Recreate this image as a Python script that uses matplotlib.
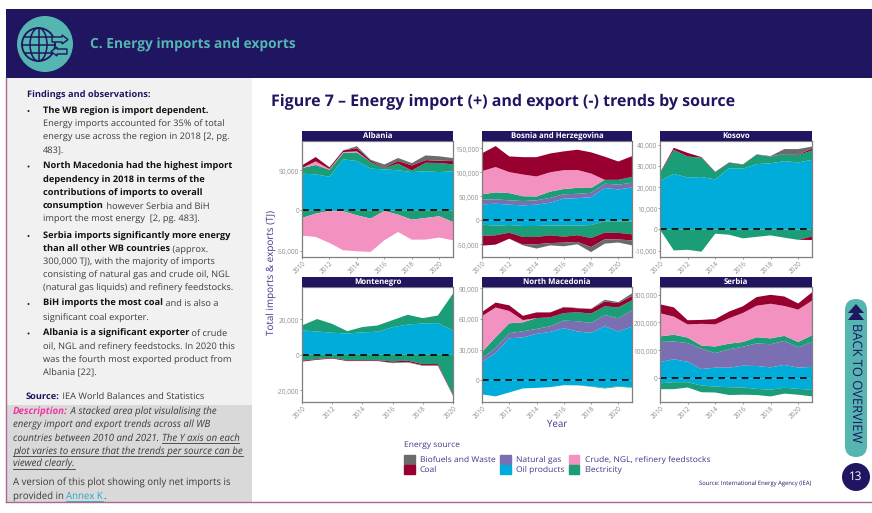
import matplotlib
matplotlib.use("Agg")
import matplotlib.pyplot as plt
from matplotlib.patches import Rectangle, Circle, Ellipse, FancyBboxPatch, Polygon, Patch
from matplotlib.ticker import FuncFormatter

plt.rcParams['font.family'] = ['Open Sans', 'DejaVu Sans']
plt.rcParams['text.hinting'] = 'no_hinting'

years = list(range(2010, 2022))
years_mne = list(range(2010, 2021))

# imports (+) and exports (-), TJ
alb_oil = [45500, 44600, 41700, 63200, 61200, 51700, 50800, 49600, 47500, 48300, 47500, 48300]
alb_elec = [7000, 11600, 8700, 7900, 10700, 8300, 1600, 8300, 2000, 10700, 11200, 8700]
alb_crude = [0, 4500, 800, 1200, 1200, 0, 0, 0, 0, 0, 0, 0]
alb_coal = [3300, 5400, 2000, 2000, 4000, 2000, 800, 3300, 6200, 3300, 2900, 4100]
alb_bio = [0, 0, 400, 0, 2500, 800, 3700, 3700, 2900, 5800, 5400, 3700]
alb_elec_x = [-9500, -4100, -800, -1200, -6200, -10300, -800, -5400, -11600, -9500, -7400, -14500]
alb_crude_x = [-21900, -28900, -39700, -48300, -44600, -41300, -36300, -21500, -24800, -26800, -26400, -22700]

bih_oil = [33000, 34500, 32500, 31000, 32500, 36600, 45000, 46000, 48000, 67000, 64000, 68000]
bih_gas = [10000, 9000, 9000, 9000, 9000, 10000, 9000, 9000, 9000, 9000, 10000, 10000]
bih_elec = [11000, 14500, 15000, 10000, 8000, 13000, 11000, 12400, 10000, 8000, 10000, 12000]
bih_crude = [48000, 52500, 43500, 45000, 41500, 40000, 39000, 37000, 30000, 0, 0, 0]
bih_coal = [37000, 43500, 32500, 36000, 40000, 39000, 39000, 42000, 44000, 48000, 38000, 43000]
bih_oil_x = [-9000, -11000, -9700, -11700, -11700, -10400, -11000, -11000, -9700, -2000, -2000, -2000]
bih_elec_x = [-23500, -20000, -16000, -22800, -22800, -20700, -22800, -20000, -27000, -23500, -24000, -27000]
bih_coal_x = [-20000, -19300, -12400, -16000, -15000, -16000, -12400, -13800, -18700, -13800, -13800, -12400]
bih_bio_x = [0, 0, 0, -1400, -9000, -4800, -7600, -4800, -10400, -9000, -6200, -10400]

kos_oil = [23000, 26200, 24500, 24700, 23600, 28900, 28600, 30800, 31200, 32200, 31600, 32800]
kos_elec = [3600, 11300, 9900, 9100, 3500, 2500, 2000, 4500, 3100, 3300, 3500, 4400]
kos_coal = [200, 1000, 1700, 300, 100, 200, 100, 100, 100, 100, 300, 900]
kos_bio = [0, 0, 0, 0, 0, 0, 0, 0, 200, 2300, 2500, 1000]
kos_elec_x = [-100, -9900, -9600, -10500, -2000, -2500, -4200, -3500, -2800, -3900, -4900, -3300]
kos_coal_x = [0, 0, 0, 0, 0, 0, 0, 0, 0, 0, 0, -1700]

mne_oil = [13700, 13100, 12400, 12000, 12600, 13000, 15500, 17000, 17600, 17800, 13700]
mne_elec = [2800, 7000, 5000, 1300, 3000, 3500, 4000, 5500, 3000, 4300, 20700]
mne_elec_x = [-3300, -2400, -1700, -3100, -3100, -3100, -3700, -3300, -5200, -5200, -22400]
mne_coal_x = [-500, -400, -400, -400, -400, -400, -700, -700, -700, -700, -500]
mne_bio_x = [0, 0, 0, 0, 0, 0, -300, -300, -300, -300, 0]

mkd_oil = [18000, 26700, 41000, 41800, 45300, 47200, 50800, 47600, 46300, 52700, 47600, 52400]
mkd_gas = [3200, 5000, 5000, 6000, 4800, 5500, 7400, 10000, 9600, 11000, 12900, 16000]
mkd_elec = [6400, 10300, 9600, 8700, 10600, 8700, 7400, 8700, 9300, 8400, 10600, 9600]
mkd_crude = [35000, 29000, 12000, 2200, 0, 0, 0, 0, 0, 0, 0, 0]
mkd_coal = [4000, 4800, 5500, 4200, 5500, 4800, 5500, 3900, 4200, 4800, 4200, 4200]
mkd_bio = [0, 0, 0, 0, 0, 0, 600, 400, 400, 1600, 1000, 2600]
mkd_oil_x = [-13800, -15700, -11900, -8000, -7400, -6700, -4800, -4800, -5800, -7400, -5800, -7000]
mkd_elec_x = [0, 0, 0, 0, 0, 0, 0, -200, -500, -600, -600, -300]

srb_oil = [58000, 68000, 59000, 33000, 38000, 38000, 45000, 44000, 39000, 48000, 38000, 41000]
srb_gas = [72000, 64000, 67000, 73000, 52000, 66000, 68000, 81000, 83000, 86000, 73000, 89000]
srb_elec = [20000, 24000, 20000, 11000, 24000, 20000, 17000, 22000, 21000, 18000, 19000, 24000]
srb_crude = [83000, 65000, 47000, 78000, 79000, 91000, 104000, 113000, 124000, 107000, 116000, 124000]
srb_coal = [32000, 33000, 15000, 14000, 19000, 24000, 24000, 31000, 32000, 34000, 22000, 30000]
srb_oil_x = [-18000, -14000, -14000, -26000, -30000, -32000, -33000, -38000, -41000, -34000, -38000, -41000]
srb_elec_x = [-21000, -25000, -19000, -24000, -21000, -28000, -26000, -22000, -24000, -21000, -21000, -24000]

NAVY = '#1f1560'
TEAL = '#55b5b0'
LABEL = '#41378a'
source_colors = {'Biofuels and Waste': '#6b6b6b', 'Coal': '#97002f', 'Natural gas': '#7a6fb3',
                 'Oil products': '#00acd9', 'Crude, NGL, refinery feedstocks': '#f391c1', 'Electricity': '#1b9e77'}
stack_order = ['Oil products', 'Natural gas', 'Electricity', 'Crude, NGL, refinery feedstocks', 'Coal', 'Biofuels and Waste']

panels = [
    ('Albania', years, {'Oil products': alb_oil, 'Electricity': alb_elec, 'Crude, NGL, refinery feedstocks': alb_crude,
                        'Coal': alb_coal, 'Biofuels and Waste': alb_bio},
     {'Electricity': alb_elec_x, 'Crude, NGL, refinery feedstocks': alb_crude_x},
     (-57900, 86000), [-50000, 0, 50000], (302, 131, 453, 257)),
    ('Bosnia and Herzegovina', years, {'Oil products': bih_oil, 'Natural gas': bih_gas, 'Electricity': bih_elec,
                                       'Crude, NGL, refinery feedstocks': bih_crude, 'Coal': bih_coal},
     {'Oil products': bih_oil_x, 'Electricity': bih_elec_x, 'Coal': bih_coal_x, 'Biofuels and Waste': bih_bio_x},
     (-76000, 164500), [-50000, 0, 50000, 100000, 150000], (482, 131, 632, 257)),
    ('Kosovo', years, {'Oil products': kos_oil, 'Electricity': kos_elec, 'Coal': kos_coal, 'Biofuels and Waste': kos_bio},
     {'Electricity': kos_elec_x, 'Coal': kos_coal_x},
     (-13000, 41700), [-10000, 0, 10000, 20000, 30000, 40000], (660, 131, 812, 257)),
    ('Montenegro', years_mne, {'Oil products': mne_oil, 'Electricity': mne_elec},
     {'Electricity': mne_elec_x, 'Coal': mne_coal_x, 'Biofuels and Waste': mne_bio_x},
     (-26500, 38100), [-20000, 0, 20000], (302, 277, 453, 402)),
    ('North Macedonia', years, {'Oil products': mkd_oil, 'Natural gas': mkd_gas, 'Electricity': mkd_elec,
                                'Crude, NGL, refinery feedstocks': mkd_crude, 'Coal': mkd_coal, 'Biofuels and Waste': mkd_bio},
     {'Oil products': mkd_oil_x, 'Electricity': mkd_elec_x},
     (-21200, 91000), [0, 30000, 60000, 90000], (482, 277, 632, 402)),
    ('Serbia', years, {'Oil products': srb_oil, 'Natural gas': srb_gas, 'Electricity': srb_elec,
                       'Crude, NGL, refinery feedstocks': srb_crude, 'Coal': srb_coal},
     {'Oil products': srb_oil_x, 'Electricity': srb_elec_x},
     (-85000, 327000), [0, 100000, 200000, 300000], (660, 277, 812, 402)),
]

W, H = 872, 513
fig = plt.figure(figsize=(W / 100, H / 100), dpi=100, facecolor='white')

# page furniture lives in one full-figure axes in pixel coordinates
bg = fig.add_axes([0, 0, 1, 1])
bg.set_xlim(0, W)
bg.set_ylim(H, 0)
bg.axis('off')

bg.add_patch(Rectangle((6, 9), W - 6, 69, color=NAVY, lw=0))
bg.add_patch(Rectangle((7, 78), 245, 327, color='#f1f1f1', lw=0))
bg.add_patch(Rectangle((7, 405), 245, 97, color='#d9d9d9', lw=0))
bg.plot([6, 6], [78, 502], color='#a8688f', lw=1)
bg.plot([6, W], [502, 502], color='#a8688f', lw=1)

# globe badge
bg.add_patch(Circle((45, 44), 28, color=TEAL, lw=0))
gx, gy = 38.5, 44.5
bg.add_patch(Circle((gx, gy), 16.5, fill=False, ec=NAVY, lw=1.3))
bg.add_patch(Ellipse((gx, gy), 17, 33, fill=False, ec=NAVY, lw=1.1))
bg.plot([gx, gx], [gy - 16.5, gy + 16.5], color=NAVY, lw=1.1)
bg.plot([gx - 16.5, gx + 16.5], [gy, gy], color=NAVY, lw=1.1)
bg.plot([gx - 14, gx + 14], [gy - 8, gy - 8], color=NAVY, lw=1.1)
bg.plot([gx - 14, gx + 14], [gy + 8, gy + 8], color=NAVY, lw=1.1)
bg.add_patch(Polygon([(52, 37), (62, 37), (62, 35), (68, 39.5), (62, 44), (62, 42), (52, 42)],
                     fc=TEAL, ec=NAVY, lw=1, zorder=3))
bg.add_patch(Polygon([(67, 49), (57, 49), (57, 47), (51, 51.5), (57, 56), (57, 54), (67, 54)],
                     fc=TEAL, ec=NAVY, lw=1, zorder=3))

bg.text(90, 45, 'C. Energy imports and exports', color=TEAL, fontsize=9.9, fontweight='bold', va='center')
bg.text(271, 102, 'Figure 7 – Energy import (+) and export (-) trends by source', color=NAVY,
        fontsize=11.5, fontweight='bold', va='center')

renderer = fig.canvas.get_renderer()


def runs(x, y, parts, size=6.7):
    # one line made of differently styled pieces, each placed after the last
    for part in parts:
        txt, weight, style, color, under = part
        t = bg.text(x, y, txt, fontsize=size, fontweight=weight, fontstyle=style, color=color, va='center')
        w = t.get_window_extent(renderer).width
        if under:
            bg.plot([x, x + w], [y + 5, y + 5], color=color, lw=0.6)
        x += w


BODY = '#3b3b3b'
BLACK = '#111111'


def reg(s):
    return (s, 'normal', 'normal', BODY, False)


def bld(s):
    return (s, 'bold', 'normal', BLACK, False)


def ita(s, under=False):
    return (s, 'normal', 'italic', BODY, under)


runs(26.5, 95, [('Findings and observations:', 'bold', 'normal', NAVY, False)])
for by in [111, 166.5, 236, 304, 333.5]:
    bg.add_patch(Circle((28.5, by), 1, color=NAVY, lw=0))

findings = [
    (111, [bld('The WB region is import dependent.')]),
    (124, [reg('Energy imports accounted for 35% of total')]),
    (137.5, [reg('energy use across the region in 2018 [2, pg.')]),
    (150.5, [reg('483].')]),
    (166.5, [bld('North Macedonia had the highest import')]),
    (180, [bld('dependency in 2018 in terms of the')]),
    (193, [bld('contributions of imports to overall')]),
    (206.5, [bld('consumption'), reg(' however Serbia and BiH')]),
    (219.5, [reg('import the most energy  [2, pg. 483].')]),
    (236, [bld('Serbia imports significantly more energy')]),
    (249, [bld('than all other WB countries'), reg(' (approx.')]),
    (262, [reg('300,000 TJ), with the majority of imports')]),
    (275, [reg('consisting of natural gas and crude oil, NGL')]),
    (288.5, [reg('(natural gas liquids) and refinery feedstocks.')]),
    (304, [bld('BiH imports the most coal'), reg(' and is also a')]),
    (318, [reg('significant coal exporter.')]),
    (333.5, [bld('Albania is a significant exporter'), reg(' of crude')]),
    (347, [reg('oil, NGL and refinery feedstocks. In 2020 this')]),
    (360, [reg('was the fourth most exported product from')]),
    (373.5, [reg('Albania [22].')]),
]
for y, parts in findings:
    runs(43, y, parts)
runs(26, 397, [('Source:', 'bold', 'normal', NAVY, False), reg(' IEA World Balances and Statistics')])

DESC = 6.95
runs(13, 412, [('Description:', 'bold', 'italic', '#f037a5', False), ita(' A stacked area plot visulalising the')], size=DESC)
runs(13, 425, [ita('energy import and export trends across all WB')], size=DESC)
runs(13, 438, [ita('countries between 2010 and 2021. '), ita('The Y axis on each', True)], size=DESC)
runs(13, 451, [ita('plot varies to ensure that the trends per source can be', True)], size=DESC)
runs(13, 464, [ita('viewed clearly.', True)], size=DESC)
runs(13, 483, [reg('A version of this plot showing only net imports is')], size=DESC)
runs(13, 496, [reg('provided in '), ('Annex K', 'normal', 'normal', '#2aa6c8', True), reg('.')], size=DESC)

# back to overview pill and page number
bg.add_patch(FancyBboxPatch((845 + 11, 299 + 11), 0, 136, boxstyle='round,pad=11', fc=TEAL, ec='none'))
bg.add_patch(Polygon([(856, 304), (848, 313), (864, 313)], color=NAVY, lw=0))
bg.add_patch(Polygon([(856, 310), (848, 320), (864, 320)], color=NAVY, lw=0))
bg.text(855.5, 382.5, 'BACK TO OVERVIEW', color=NAVY, fontsize=9.3, rotation=-90, ha='center', va='center')
bg.add_patch(Circle((856, 477), 14, color=NAVY, lw=0))
bg.text(856, 477, '13', color='white', fontsize=8.5, ha='center', va='center')

bg.text(271, 272, 'Total imports & exports (TJ)', color=LABEL, fontsize=7.1, rotation=90, ha='center', va='center')
bg.text(557, 424, 'Year', color=LABEL, fontsize=7, ha='center', va='center')
bg.text(811, 484, 'Source: International Energy Agency (IEA)', color=NAVY, fontsize=4.25, ha='right', va='center')

tick_fmt = FuncFormatter(lambda v, pos: f'{int(v):,}')

for name, xs, imports, exports, ylim, yticks, box in panels:
    left, top, right, bottom = box
    strip_h = 10
    ax = fig.add_axes([left / W, 1 - bottom / H, (right - left) / W, (bottom - top - strip_h) / H])
    pos_keys = [k for k in stack_order if k in imports]
    neg_keys = [k for k in stack_order if k in exports]
    ax.stackplot(xs, [imports[k] for k in pos_keys], colors=[source_colors[k] for k in pos_keys], lw=0)
    ax.stackplot(xs, [exports[k] for k in neg_keys], colors=[source_colors[k] for k in neg_keys], lw=0)
    ax.axhline(0, color='black', lw=1.2, ls=(0, (4, 3)))
    ax.set_xlim(xs[0], xs[-1])
    ax.set_ylim(*ylim)
    ax.set_xticks(range(2010, 2021, 2))
    ax.set_yticks(yticks)
    ax.yaxis.set_major_formatter(tick_fmt)
    ax.tick_params(axis='both', labelsize=4.7, labelcolor='#8c8c8c', color='#8c8c8c', length=1.5, width=0.6, pad=0.5)
    plt.setp(ax.get_xticklabels(), rotation=45, ha='right', rotation_mode='anchor')
    for spine in ax.spines.values():
        spine.set_color('#7f7f7f')
        spine.set_linewidth(0.9)

    strip = fig.add_axes([left / W, 1 - (top + strip_h) / H, (right - left) / W, strip_h / H])
    strip.set_facecolor(NAVY)
    strip.set_xticks([])
    strip.set_yticks([])
    for spine in strip.spines.values():
        spine.set_visible(False)
    strip.text(0.5, 0.47, name, color='white', fontsize=5.6, fontweight='bold', ha='center', va='center',
               transform=strip.transAxes)

legend_order = ['Biofuels and Waste', 'Coal', 'Natural gas', 'Oil products', 'Crude, NGL, refinery feedstocks', 'Electricity']
handles = [Patch(color=source_colors[k], label=k) for k in legend_order]
leg = fig.legend(handles=handles, ncols=3, loc='upper left', bbox_to_anchor=(404 / W, 1 - 441 / H), frameon=False,
                 title='Energy source', alignment='left', fontsize=6.1, title_fontsize=6.1, labelcolor=LABEL,
                 handlelength=1.25, handleheight=1.25, handletextpad=0.6, columnspacing=0.55, labelspacing=0.1,
                 borderpad=0, borderaxespad=0)
leg.get_title().set_color(LABEL)
leg._legend_box.sep = 4

fig.savefig('out.png', dpi=100)
